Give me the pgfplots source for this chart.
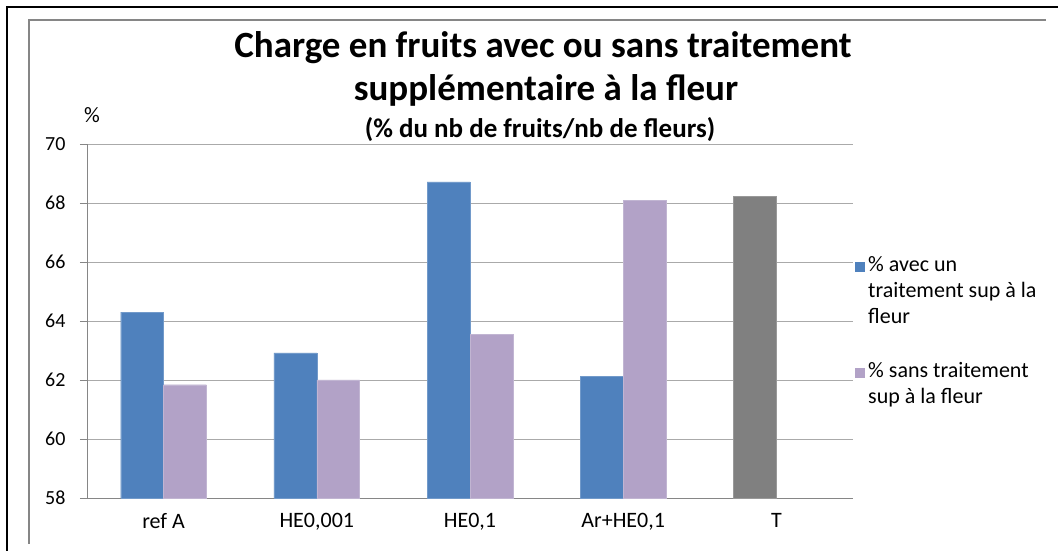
\documentclass[border=0pt]{standalone}
\usepackage{pgfplots}
\pgfplotsset{compat=1.18}
\usepackage{fontspec}
\setmainfont{Carlito}
\definecolor{cblue}{HTML}{4F81BD}
\definecolor{cpurple}{HTML}{B2A2C7}
\definecolor{cgray}{HTML}{808080}
\definecolor{axgray}{HTML}{868686}
\begin{document}
\begin{tikzpicture}[x=1pt,y=1pt]
\useasboundingbox (0,0) rectangle (1058,551);
\fill[white] (0,0) rectangle (1058,551);
% frames
\draw[black,line width=2pt] (7,0) -- (7,544) -- (1058,544);
\draw[axgray,line width=2pt] (29,7) -- (29,531) -- (1046,531);
\begin{axis}[
  at={(87pt,53pt)}, anchor=south west,
  scale only axis, width=766pt, height=354pt,
  xmin=-0.5, xmax=4.5, ymin=58, ymax=70,
  axis x line=bottom, axis y line=left,
  axis line style={-, draw=axgray, line width=0.8pt},
  ytick={58,60,...,70},
  ymajorgrids, grid style={axgray!70, line width=0.8pt},
  xtick={0,1,2,3,4},
  xticklabels={ref A, {HE0,001}, {HE0,1}, {Ar+HE0,1}, T},
  x tick label style={font=\fontsize{22}{26}\selectfont, text=black, yshift=-5pt},
  y tick label style={font=\fontsize{20}{24}\selectfont, text=black, xshift=-11pt},
  /pgf/number format/assume math mode=true,
  major x tick style={draw=none},
  major y tick style={draw=axgray, line width=0.8pt},
  tick align=outside, major tick length=7pt,
  extra x ticks={-0.5,0.5,1.5,2.5,3.5,4.5},
  extra x tick labels={},
  extra x tick style={major tick style={draw=axgray, line width=0.8pt}, major tick length=5pt, grid=none},
  ybar, bar width=0.28,
  clip=false,
]
\addplot[fill=cblue, draw=cblue!80!white, bar shift=-0.14] coordinates {(0,64.3) (1,62.92) (2,68.72) (3,62.13)};
\addplot[fill=cpurple, draw=cpurple!80!white, bar shift=0.14] coordinates {(0,61.84) (1,62.0) (2,63.55) (3,68.08)};
\addplot[fill=cgray, draw=cgray!80!white, bar shift=-0.14] coordinates {(4,68.23)};
\end{axis}
% titles
\node[font=\fontsize{37}{44}\selectfont\bfseries] at (543,503) {Charge en fruits avec ou sans traitement};
\node[font=\fontsize{37}{44}\selectfont\bfseries] at (546,461) {supplémentaire à la fleur};
\node[font=\fontsize{27}{32}\selectfont\bfseries] at (540,421) {(\% du nb de fruits/nb de fleurs)};
\node[font=\fontsize{22}{26}\selectfont] at (92,436) {\%};
% legend
\fill[cblue] (855,279) rectangle (865,289);
\node[anchor=north west, align=left, font=\fontsize{22}{26}\selectfont, inner sep=0pt] at (868,295) {\% avec un\\traitement sup à la\\fleur};
\fill[cpurple] (855,173) rectangle (865,183);
\node[anchor=north west, align=left, font=\fontsize{22}{26}\selectfont, inner sep=0pt] at (868,189) {\% sans traitement\\sup à la fleur};
\end{tikzpicture}
\end{document}
